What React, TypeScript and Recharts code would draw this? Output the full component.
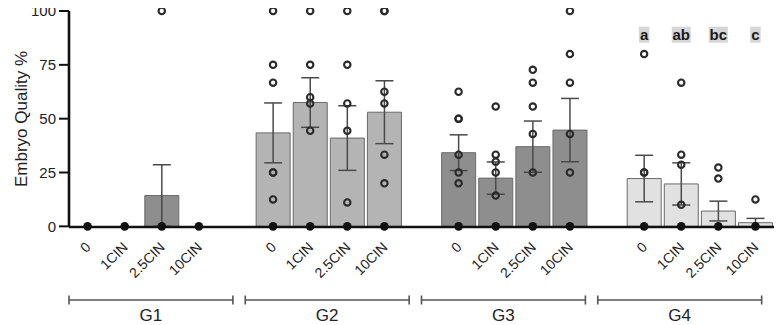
import React from 'react';
import { ComposedChart, Bar, Line, XAxis, YAxis, ErrorBar, Cell } from 'recharts';

// Treatment groups and CIN doses
const groupNames = ['G1', 'G2', 'G3', 'G4'];
const doseLabels = ['0', '1CIN', '2.5CIN', '10CIN'];

// Mean embryo quality (%) per dose, one array per group
const meanG1 = [0, 0, 14.3, 0];
const meanG2 = [43.4, 57.5, 41, 53];
const meanG3 = [34.2, 22.4, 37, 44.7];
const meanG4 = [22.2, 19.7, 7.1, 1.7];

// Standard error of the mean per dose
const semG1 = [null, null, 14.3, null];
const semG2 = [13.9, 11.5, 15, 14.6];
const semG3 = [8.3, 7.5, 11.9, 14.7];
const semG4 = [10.8, 9.8, 4.6, 2];

// Individual replicate values per dose
const pointsG1 = [[0], [0], [100, 0], [0]];
const pointsG2 = [
  [100, 75, 66.7, 25, 25, 12.5, 0],
  [100, 75, 60, 57.1, 44.4, 0],
  [100, 75, 57.1, 44.4, 11.1, 0],
  [100, 100, 62.5, 57.1, 33.3, 20, 0],
];
const pointsG3 = [
  [62.5, 50, 50, 33.3, 25, 20, 0],
  [55.6, 33.3, 30, 25, 14.3, 0],
  [72.7, 66.7, 55.6, 42.9, 25, 0],
  [100, 80, 66.7, 42.9, 25, 0],
];
const pointsG4 = [[80, 25, 25, 0], [66.7, 33.3, 28.6, 10, 0], [27.3, 22.2, 0], [12.5, 0]];

// Significance letters (G4 only) and the level they are printed at
const lettersG4 = ['a', 'ab', 'bc', 'c'];
const letterLevel = 89;

const yTicks = [0, 25, 50, 75, 100];

const means = [meanG1, meanG2, meanG3, meanG4];
const sems = [semG1, semG2, semG3, semG4];
const points = [pointsG1, pointsG2, pointsG3, pointsG4];
const letters = [null, null, null, lettersG4];

const groupFill: Record<string, string> = {
  G1: '#8e8e8e',
  G2: '#b4b4b4',
  G3: '#8e8e8e',
  G4: '#e1e1e1',
};

const maxPoints = Math.max(...points.flat().map((p) => p.length));
const pointKeys = Array.from({ length: maxPoints }, (_, i) => `p${i}`);

type Row = Record<string, any>;
const rows: Row[] = [];
groupNames.forEach((g, gi) => {
  if (gi > 0) rows.push({ key: `gap${gi}`, group: groupNames[gi - 1] });
  doseLabels.forEach((d, di) => {
    const row: Row = { key: `${g}|${d}`, group: g, dose: d, mean: means[gi][di], sem: sems[gi][di] };
    points[gi][di].forEach((v, pi) => {
      row[`p${pi}`] = v;
    });
    const l = letters[gi];
    if (l) {
      row.letter = l[di];
      row.letterY = letterLevel;
    }
    rows.push(row);
  });
});

const FONT = '"Liberation Sans", Arial, Helvetica, sans-serif';

const DoseTick = (props: any) => {
  const { x, y, payload } = props;
  const parts = String(payload.value).split('|');
  const label = parts[1] ?? '';
  if (!label) return <g />;
  return (
    <g transform={`translate(${x},${y})`}>
      <text
        x={4}
        y={21}
        transform="rotate(-45, 4, 21)"
        textAnchor="end"
        fontSize={14}
        fontFamily={FONT}
        fill="#222"
      >
        {label}
      </text>
    </g>
  );
};

const GroupTick = (props: any) => {
  const { x, y, payload } = props;
  const half = payload.offset ?? 88;
  const left = x - half;
  const right = x + half * 0.86;
  const mid = (left + right) / 2;
  const by = y + 11;
  const stroke = '#555';
  return (
    <g>
      <line x1={left} x2={right} y1={by} y2={by} stroke={stroke} strokeWidth={1.6} />
      <line x1={left} x2={left} y1={by - 4.5} y2={by + 4.5} stroke={stroke} strokeWidth={1.6} />
      <line x1={right} x2={right} y1={by - 4.5} y2={by + 4.5} stroke={stroke} strokeWidth={1.6} />
      <text x={mid} y={by + 21} textAnchor="middle" fontSize={17} fontFamily={FONT} fill="#222">
        {payload.value}
      </text>
    </g>
  );
};

const makePointDot = (key: string) => (props: any) => {
  const { cx, cy, payload, index } = props;
  const v = payload ? payload[key] : null;
  if (v == null || cy == null || cx == null) return <g key={`${key}-${index}`} />;
  if (v === 0) return <circle key={`${key}-${index}`} cx={cx} cy={cy} r={4.3} fill="#111" />;
  return (
    <circle
      key={`${key}-${index}`}
      cx={cx}
      cy={cy}
      r={3.2}
      fill="none"
      stroke="#2a2a2a"
      strokeWidth={2.1}
    />
  );
};

const renderLetter = (props: any) => {
  const { cx, cy, payload, index } = props;
  if (!payload || !payload.letter || cy == null) return <g key={`l-${index}`} />;
  const w = payload.letter.length * 8.5 + 2;
  return (
    <g key={`l-${index}`}>
      <rect x={cx - w / 2} y={cy - 8} width={w} height={16} fill="#d6d6d6" />
      <text
        x={cx}
        y={cy + 5}
        textAnchor="middle"
        fontWeight="bold"
        fontSize={15}
        fontFamily={FONT}
        fill="#1a1a1a"
      >
        {payload.letter}
      </text>
    </g>
  );
};

export default function App() {
  return (
    <div style={{ width: 783, height: 325, margin: '-8px 0 0 -8px', fontFamily: FONT }}>
      <ComposedChart
        width={783}
        height={325}
        data={rows}
        margin={{ top: 11, right: 9, left: 8, bottom: 0 }}
        barCategoryGap={1.6}
      >
        <XAxis
          dataKey="key"
          type="category"
          allowDuplicatedCategory={false}
          interval={0}
          height={62}
          tickLine={false}
          tickSize={0}
          tickMargin={0}
          tick={<DoseTick />}
          axisLine={{ stroke: '#111', strokeWidth: 2.6 }}
        />
        <XAxis
          xAxisId="grp"
          dataKey="group"
          type="category"
          allowDuplicatedCategory={false}
          interval={0}
          height={36}
          tickLine={false}
          tickSize={0}
          tickMargin={0}
          axisLine={false}
          tick={<GroupTick />}
        />
        <YAxis
          domain={[0, 100]}
          ticks={yTicks}
          interval={0}
          width={61}
          tickSize={10}
          tickMargin={3}
          axisLine={{ stroke: '#111', strokeWidth: 2.6 }}
          tickLine={{ stroke: '#111', strokeWidth: 2 }}
          tick={{ fontSize: 15, fill: '#222', fontFamily: FONT }}
          label={{
            value: 'Embryo Quality %',
            angle: -90,
            position: 'insideLeft',
            offset: 13,
            style: { textAnchor: 'middle', fontSize: 17, fill: '#222', fontFamily: FONT },
          }}
        />
        <Bar dataKey="mean" stroke="#6a6a6a" strokeWidth={1} isAnimationActive={false}>
          {rows.map((r) => (
            <Cell key={r.key} fill={groupFill[r.group] ?? '#999'} />
          ))}
          <ErrorBar dataKey="sem" width={9} stroke="#4a4a4a" strokeWidth={1.5} />
        </Bar>
        {pointKeys.map((k) => (
          <Line
            key={k}
            dataKey={k}
            stroke="none"
            dot={makePointDot(k)}
            activeDot={false}
            legendType="none"
            isAnimationActive={false}
          />
        ))}
        <Line
          dataKey="letterY"
          stroke="none"
          dot={renderLetter}
          activeDot={false}
          legendType="none"
          isAnimationActive={false}
        />
      </ComposedChart>
    </div>
  );
}
